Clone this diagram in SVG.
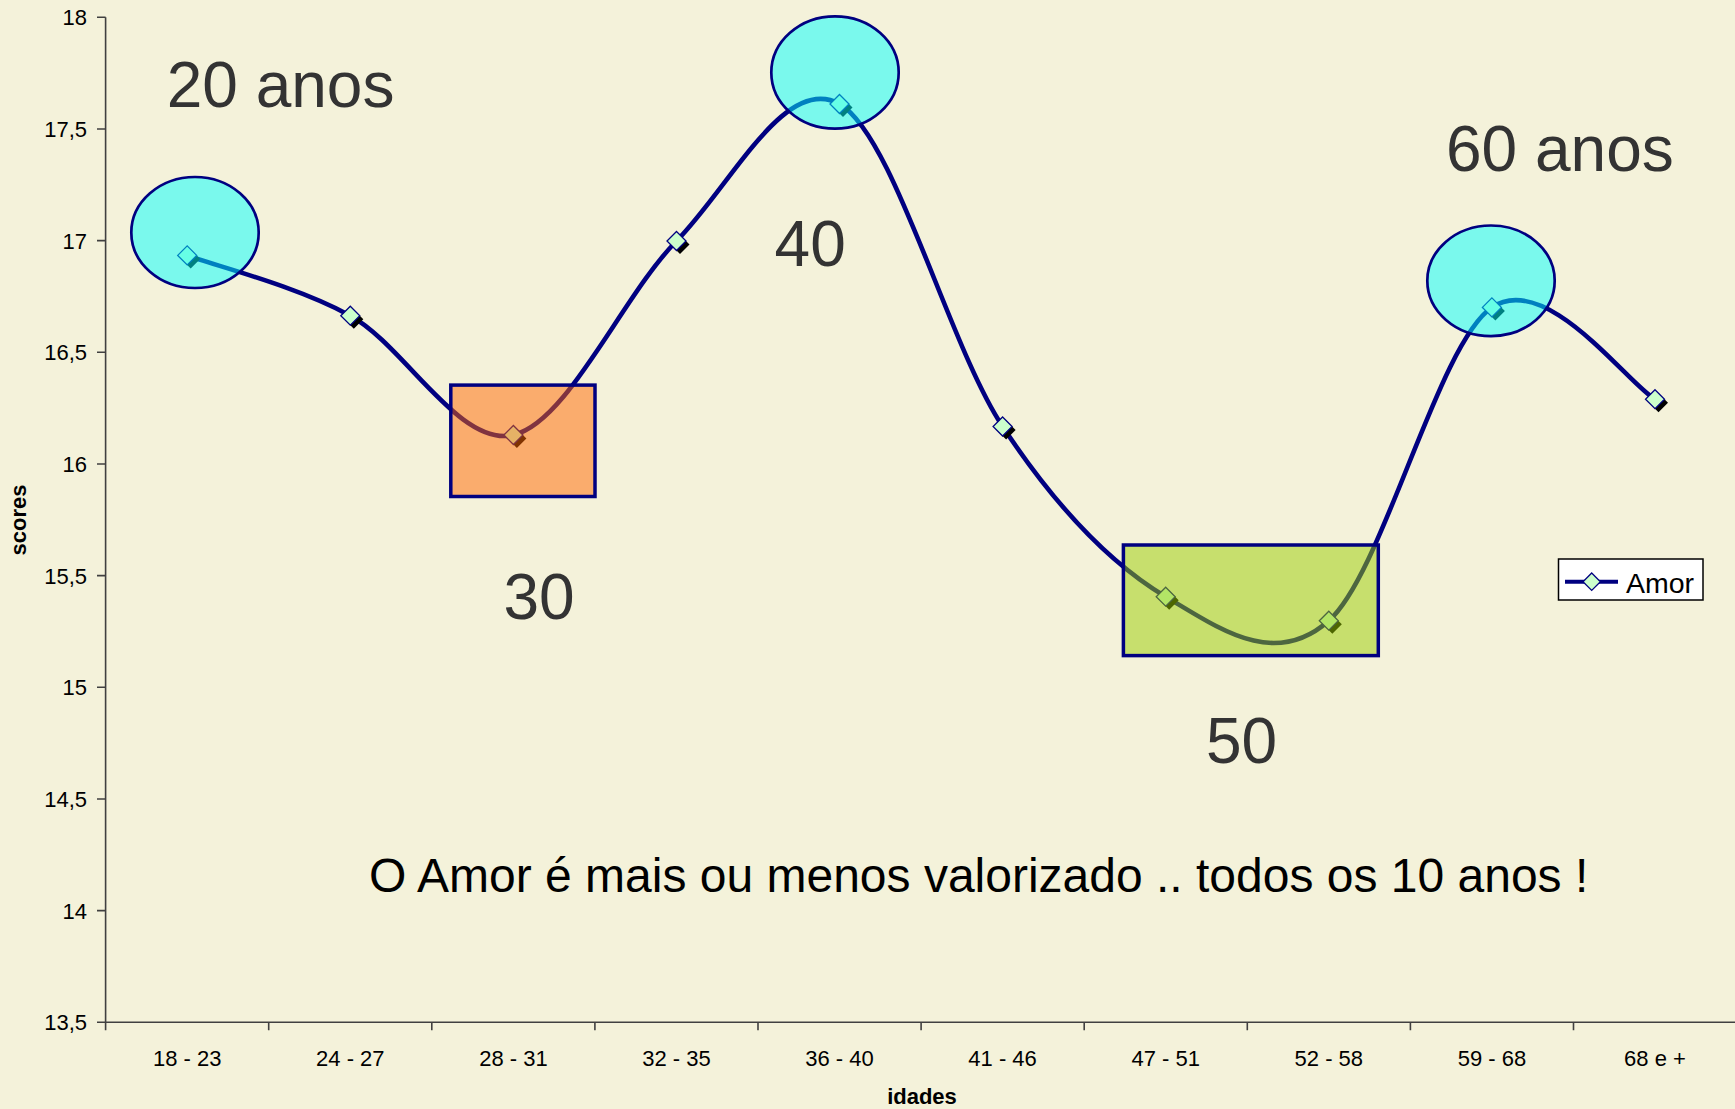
<svg xmlns="http://www.w3.org/2000/svg" width="1735" height="1109" viewBox="0 0 1735 1109">
<style>
.ax{stroke:#404040;stroke-width:1.6;fill:none}
.tk{font-family:"Liberation Sans",Arial,sans-serif;font-size:22px;fill:#000}
.yl{text-anchor:end}
.xl{text-anchor:middle}
.title{font-family:"Liberation Sans",Arial,sans-serif;font-size:22px;font-weight:bold;fill:#000;text-anchor:middle}
.big{font-family:"Liberation Sans",Arial,sans-serif;font-size:64px;fill:#333333}
.note{font-family:"Liberation Sans",Arial,sans-serif;font-size:48px;fill:#000}
.series{fill:none;stroke:#000080;stroke-width:4.6;stroke-linejoin:round;stroke-linecap:round}
.ell{fill:#00FFFF;fill-opacity:0.5;stroke:#000080;stroke-width:2.7}
.box{fill-opacity:0.5;stroke:#000080;stroke-width:3.5}
</style>
<defs>
<g id="mk">
<polygon points="3.5,-6 13,3.5 3.5,13 -6,3.5" fill="#000"/>
<polygon points="0,-9.5 9.5,0 0,9.5 -9.5,0" fill="#CCFFCC" stroke="#000080" stroke-width="1.3"/>
</g>
</defs>
<rect x="0" y="0" width="1735" height="1109" fill="#F4F2DA"/>

<g id="axes">
<path class="ax" d="M105.6,17.3V1022.3H1735"/>
<path class="ax" d="M97,17.3H105.6M97,129H105.6M97,240.6H105.6M97,352.3H105.6M97,464H105.6M97,575.6H105.6M97,687.3H105.6M97,799H105.6M97,910.6H105.6M97,1022.3H105.6"/>
<path class="ax" d="M105.6,1022.3v8M268.7,1022.3v8M431.8,1022.3v8M594.9,1022.3v8M758,1022.3v8M921.1,1022.3v8M1084.2,1022.3v8M1247.3,1022.3v8M1410.4,1022.3v8M1573.5,1022.3v8"/>
<g class="tk yl">
<text x="87" y="25.3">18</text>
<text x="87" y="137">17,5</text>
<text x="87" y="248.6">17</text>
<text x="87" y="360.3">16,5</text>
<text x="87" y="472">16</text>
<text x="87" y="583.6">15,5</text>
<text x="87" y="695.3">15</text>
<text x="87" y="807">14,5</text>
<text x="87" y="918.6">14</text>
<text x="87" y="1030.3">13,5</text>
</g>
<g class="tk xl">
<text x="187.2" y="1065.5">18 - 23</text>
<text x="350.3" y="1065.5">24 - 27</text>
<text x="513.4" y="1065.5">28 - 31</text>
<text x="676.5" y="1065.5">32 - 35</text>
<text x="839.5" y="1065.5">36 - 40</text>
<text x="1002.6" y="1065.5">41 - 46</text>
<text x="1165.7" y="1065.5">47 - 51</text>
<text x="1328.8" y="1065.5">52 - 58</text>
<text x="1491.9" y="1065.5">59 - 68</text>
<text x="1655" y="1065.5">68 e +</text>
</g>
<text class="title" x="922" y="1104">idades</text>
<text class="title" transform="translate(26,520) rotate(-90)">scores</text>
</g>

<g id="connectors">
<path class="series" d="M187.2,255.4 C214.4,265.5 295.9,285.8 350.3,315.7 C404.7,345.6 459.0,447.5 513.4,435.0 C567.8,422.6 622.1,296.2 676.5,241.0 C730.9,185.8 785.1,73.1 839.5,104.0 C893.9,134.9 948.2,344.4 1002.6,426.5 C1057.0,508.6 1111.3,564.3 1165.7,596.7 C1220.1,629.1 1274.4,668.9 1328.8,620.7 C1383.2,572.5 1437.5,344.3 1491.9,307.4 C1546.3,270.5 1627.8,383.9 1655.0,399.2"/>
</g>

<g id="markers">
<use href="#mk" x="187.2" y="255.4"/>
<use href="#mk" x="350.3" y="315.7"/>
<use href="#mk" x="513.4" y="435"/>
<use href="#mk" x="676.5" y="241"/>
<use href="#mk" x="839.5" y="104"/>
<use href="#mk" x="1002.6" y="426.5"/>
<use href="#mk" x="1165.7" y="596.7"/>
<use href="#mk" x="1328.8" y="620.7"/>
<use href="#mk" x="1491.9" y="307.4"/>
<use href="#mk" x="1655" y="399.2"/>
</g>

<g id="highlights">
<ellipse id="c20" class="ell" cx="195" cy="232.5" rx="63.7" ry="55.5"/>
<ellipse id="c40" class="ell" cx="835" cy="72.5" rx="63.7" ry="56.2"/>
<ellipse id="c60" class="ell" cx="1491" cy="280.8" rx="63.7" ry="55.3"/>
<rect id="r30" class="box" x="450.8" y="385.1" width="144.2" height="111.4" fill="#FF6600"/>
<rect id="r50" class="box" x="1123.4" y="545" width="254.9" height="110.6" fill="#99CC00"/>
</g>

<g id="labels">
<text class="big" x="166.7" y="107">20 anos</text>
<text class="big" x="1446" y="171">60 anos</text>
<text class="big" x="774.6" y="266">40</text>
<text class="big" x="503.5" y="619">30</text>
<text class="big" x="1206" y="763">50</text>
<text class="note" x="369" y="891.7">O Amor é mais ou menos valorizado .. todos os 10 anos !</text>
</g>

<g id="legend">
<rect x="1558.5" y="559" width="144.5" height="41" fill="#FFFFFF" stroke="#000" stroke-width="1.5"/>
<line x1="1565" y1="581.7" x2="1618" y2="581.7" stroke="#000080" stroke-width="4"/>
<polygon points="1591.7,573 1600.4,581.7 1591.7,590.4 1583,581.7" fill="#CCFFCC" stroke="#000080" stroke-width="1.3"/>
<text x="1626" y="593" font-family="'Liberation Sans',Arial,sans-serif" font-size="28.5" fill="#000">Amor</text>
</g>
</svg>
